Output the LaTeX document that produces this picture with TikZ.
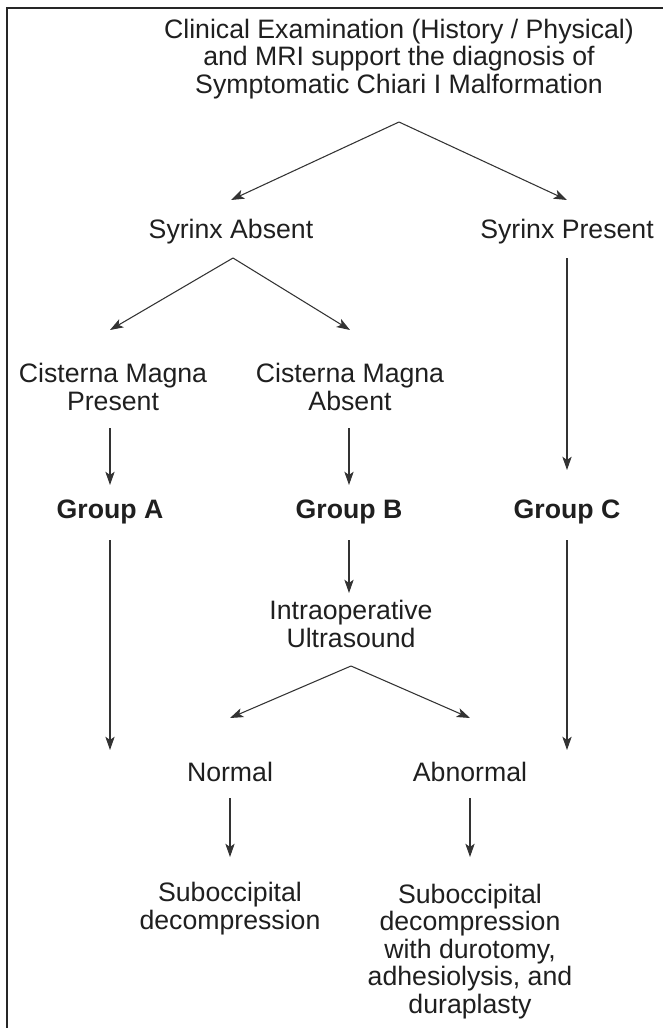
\documentclass[tikz,border=0pt]{standalone}
\usepackage{fontspec}
\setmainfont{Liberation Sans}
\usetikzlibrary{arrows.meta,calc}
\begin{document}
\begin{tikzpicture}[x=0.75pt,y=-0.75pt,
  lbl/.style={anchor=base,inner sep=0pt,align=center,text=black!88,
    font=\fontsize{20}{20.6}\selectfont},
  grp/.style={lbl,font=\fontsize{20}{20.6}\selectfont\bfseries},
  arr/.style={draw=black!80,line width=0.8pt,-{Stealth[length=10pt,width=7pt,inset=2.5pt]}},
  frame/.style={draw=black!85,line width=1.5pt}]
\useasboundingbox (0,0) rectangle (662,1028);
\draw[frame] (7,1030) -- (7,8) -- (664,8);
% nodes (anchor base = baseline of the last line)
\node[lbl] (title) at (399,93) {Clinical Examination (History / Physical)\\and MRI support the diagnosis of\\Symptomatic Chiari I Malformation};
\node[lbl] (sa) at (231,238) {Syrinx Absent};
\node[lbl] (sp) at (567,238) {Syrinx Present};
\node[lbl] (cmp) at (113,410) {Cisterna Magna\\Present};
\node[lbl] (cma) at (350,410) {Cisterna Magna\\Absent};
\node[grp] (ga) at (110,518) {Group A};
\node[grp] (gb) at (349,518) {Group B};
\node[grp] (gc) at (567,518) {Group C};
\node[lbl] (ius) at (351,647) {Intraoperative\\Ultrasound};
\node[lbl] (nrm) at (230,781) {Normal};
\node[lbl] (abn) at (470,781) {Abnormal};
\node[lbl] (sd) at (230,929) {Suboccipital\\decompression};
\node[lbl] (sdd) at (470,1013) {Suboccipital\\decompression\\with durotomy,\\adhesiolysis, and\\duraplasty};
% fork points
\coordinate (f1) at (399,122);
\coordinate (f2) at (233,258);
\coordinate (f3) at (351,666);
% connectors
\draw[arr] (f1) -- (sa |- 0,200);
\draw[arr] (f1) -- (sp |- 0,200);
\draw[arr] (f2) -- (ga |- 0,330);
\draw[arr] (f2) -- (cma |- 0,330);
\draw[arr] (ga |- 0,428) -- (ga |- 0,485);
\draw[arr] (gb |- 0,428) -- (gb |- 0,485);
\draw[arr] (sp |- 0,258) -- (sp |- 0,470);
\draw[arr] (gb |- 0,540) -- (gb |- 0,593);
\draw[arr] (ga |- 0,540) -- (ga |- 0,750);
\draw[arr] (gc |- 0,540) -- (gc |- 0,750);
\draw[arr] (f3) -- (nrm |- 0,718);
\draw[arr] (f3) -- (abn |- 0,718);
\draw[arr] (nrm |- 0,798) -- (nrm |- 0,857);
\draw[arr] (abn |- 0,798) -- (abn |- 0,857);
\end{tikzpicture}
\end{document}
